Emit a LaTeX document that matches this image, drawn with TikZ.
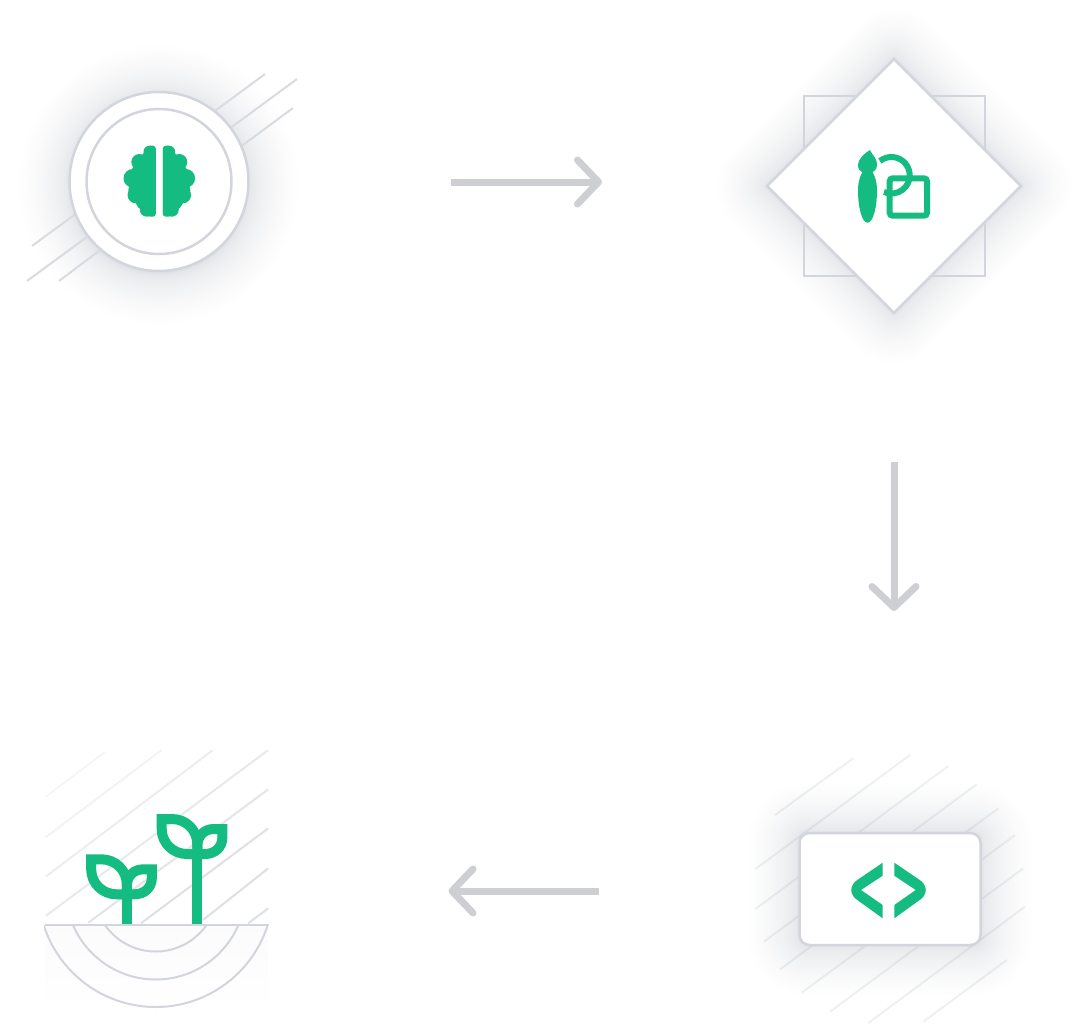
\documentclass[tikz,border=0pt]{standalone}
\usepackage{xcolor}
\definecolor{IconGreen}{RGB}{20,188,130}
\definecolor{BorderGray}{RGB}{210,214,220}
\definecolor{ArrowGray}{RGB}{205,207,210}
\definecolor{HatchGray}{RGB}{216,219,224}
\definecolor{GlowGray}{RGB}{120,128,145}
\usetikzlibrary{
  shapes, shapes.geometric,
  arrows, arrows.meta,
  positioning, calc, backgrounds
}
\tikzset{
  % Circle of the first stage
  ringbox/.style={
    circle, draw=BorderGray, line width=2.5pt, fill=white,
    inner sep=0pt, outer sep=0pt
  },
  % Diamond and square of the second stage
  gembox/.style={
    diamond, draw=BorderGray, line width=2.5pt, fill=white,
    aspect=1, inner sep=0pt, outer sep=0pt, minimum size=254pt
  },
  % Card of the third stage
  cardbox/.style={
    rectangle, rounded corners=10pt,
    draw=BorderGray, line width=2.5pt, fill=white,
    minimum width=181pt, minimum height=112pt,
    inner sep=0pt, outer sep=0pt
  },
  % Arrows
  arr/.style={
    -{Straight Barb[length=21pt,width=44pt,round]},
    line width=7pt, ArrowGray
  },
  % Hatching and glow
  hatch/.style={line width=2pt, HatchGray},
  hatchlight/.style={line width=2pt, GlowGray, opacity=0.12},
  glow/.style={fill=GlowGray, opacity=0.0065},
  iconfill/.style={fill=IconGreen},
  iconline/.style={draw=IconGreen, line width=6pt},
  sproutline/.style={draw=IconGreen, line width=10pt, miter limit=10},
}

\begin{document}
\begin{tikzpicture}[x=1pt, y=-1pt]
  \useasboundingbox (0,0) rectangle (1080,1034);

  \node[ringbox, minimum size=179pt] (think) at (159,181.5) {};
  \node[ringbox, minimum size=145pt] (thinkin) at (think) {};

  \node[gembox, right=518.5pt of think, yshift=-4.5pt] (design) {};

  \node[cardbox, below=520pt of design, xshift=-4pt] (code) {};

  \coordinate (soil) at (156.5,925);

  %% Arrows
  \draw[arr] ([xshift=202.5pt,yshift=-0.5pt]think.east) -- ([xshift=-165pt,yshift=4pt]design.west);
  \draw[arr] ([yshift=-149pt]design.south) -- ([xshift=4pt,yshift=222pt]code.north);
  \draw[arr] ([xshift=-201pt,yshift=-2pt]code.west) -- ([xshift=292pt,yshift=34pt]soil);

  %% Glows and hatching
  \begin{scope}[on background layer]
    \foreach \g [evaluate=\g as \gr using \g*\g/18] in {1,...,30} {
      \fill[glow] ([yshift=-3pt]think) circle ({(89+\gr)*1pt});
      \fill[glow, rounded corners={(\gr+1)*1pt}, shift={(design)}]
        (0,{-127-1.41*\gr}) -- ({127+1.41*\gr},0) -- (0,{127+1.41*\gr}) -- ({-127-1.41*\gr},0) -- cycle;
      \fill[glow, rounded corners={(\gr+9)*1pt}]
        ({799-\gr},{833-\gr}) rectangle ({981+\gr},{945+\gr});
    }

    % lines behind the circle
    \foreach \xa/\ya/\xb/\yb in {
      200/122/265/74, 210/143/297/79, 220/162/293/108,
      100/196/32/246, 110/220/27/281, 120/235/59/281} {
      \draw[hatch] (\xa,\ya) -- (\xb,\yb);
    }

    % square behind the diamond
    \draw[line width=2.5pt, BorderGray] (804,96) rectangle (985,276);

    % lines behind the card
    \foreach \xa/\ya/\xb/\yb in {
      775/815/853.3/758.3, 755/869.3/910/755, 755/909.3/948.3/766,
      764/941.7/976.7/784.3, 780/969.3/998.3/808.3, 801.7/992.7/1015/835,
      830/1011.7/1023.3/868.3, 868.3/1023/1025/906.7, 923.3/1021.7/1006.7/960} {
      \draw[hatchlight] (\xa,\ya) -- (\xb,\yb);
    }
  \end{scope}

  %% Brain
  \foreach \m in {1,-1} {
    \begin{scope}[shift={(159.3,181)}, xscale=\m]
      \fill[iconfill] (-9.8,-29.3) circle (6pt) (-20,-19) circle (8pt)
        (-26.5,-2.7) circle (9.3pt) (-23.5,14) circle (8.3pt) (-12.5,28.7) circle (7pt);
      \fill[iconfill] (-17,-26.5) -- (-27,-12.5) -- (-31,9.5) -- (-21,26.5) -- (-12,33) -- (-3.5,33)
        -- (-3.5,-30) -- (-10,-33) -- cycle;
      \fill[iconfill, rounded corners=3pt] (-12,-35.3) rectangle (-3.5,35.7);
    \end{scope}
  }

  %% Brush and square
  \fill[iconfill] (870,150) .. controls (865,153) and (858,158) .. (858,166)
    .. controls (858,171) and (863,173) .. (867,173)
    .. controls (873,173) and (877,171) .. (877,164)
    .. controls (877,158) and (872,155) .. (870,150) -- cycle;
  \fill[iconfill] (863,171) .. controls (860,176) and (858,182) .. (858,190)
    .. controls (858,208) and (862,222.7) .. (867.5,222.7)
    .. controls (873,222.7) and (877,208) .. (877,190)
    .. controls (877,182) and (875,176) .. (872,171) -- cycle;
  \draw[iconline] (891.4,175.3) ++(231:18.3) arc[start angle=231, end angle=474, radius=18.3];
  \draw[iconline, rounded corners=3pt] (889.7,178.3) rectangle (927,215.7);

  %% Code brackets
  \fill[iconfill] (882.7,862.7) -- (858,879.5) .. controls (849,885) and (849,895) .. (858,900.5)
    -- (882.7,918.3) -- (882.7,905) -- (861,890) -- (882.7,875.7) -- cycle;
  \fill[iconfill] (894.3,862.7) -- (919,879.5) .. controls (928,885) and (928,895) .. (919,900.5)
    -- (894.3,918.3) -- (894.3,905) -- (915.7,890) -- (894.3,875.7) -- cycle;

  %% Soil and sprouts
  \begin{scope}
    \clip (45.7,750) rectangle (268.3,925);
    \foreach \xa/\ya/\xb/\yb/\op in {
      45.7/796.7/105/752/25, 45.7/837.3/161.7/750/35, 45.7/876.7/213/750/50,
      45.7/916/268.3/750/60, 88.3/922.7/268.3/789.3/75, 141/923.3/268.3/828.3/85,
      203/920/268.3/868.3/90, 248.3/923.3/268.3/908.3/90} {
      \draw[hatch, HatchGray!\op!white] (\xa,\ya) -- (\xb,\yb);
    }
  \end{scope}
  \shade[top color=black!1.5, bottom color=white] (45,925) rectangle (268,1012);
  \begin{scope}
    \clip (44,925) rectangle (269,1012);
    \foreach \r in {62,90,117.5} {
      \draw[line width=2pt, BorderGray] (155.7,889.5) circle (\r pt);
    }
  \end{scope}
  \foreach \dx/\dy in {0/0,-70.5/40.3} {
    \begin{scope}[shift={(\dx,\dy)}]
      \draw[sproutline] (161.7,819) -- (172,819) .. controls (186,819) and (197.3,830) .. (197.3,844)
        -- (197.3,854) -- (187,854) .. controls (173,854) and (161.7,843) .. (161.7,829) -- cycle;
      \draw[sproutline] (222.3,829) -- (214,829) .. controls (204,829) and (197.3,836) .. (197.3,846)
        -- (197.3,854) -- (205,854) .. controls (215,854) and (222.3,847) .. (222.3,838) -- cycle;
      \draw[sproutline] (197.3,850) -- (197.3,{925-\dy});
    \end{scope}
  }
  \draw[line width=2.5pt, BorderGray] ([xshift=-112pt]soil) -- ([xshift=112.5pt]soil);

\end{tikzpicture}
\end{document}
